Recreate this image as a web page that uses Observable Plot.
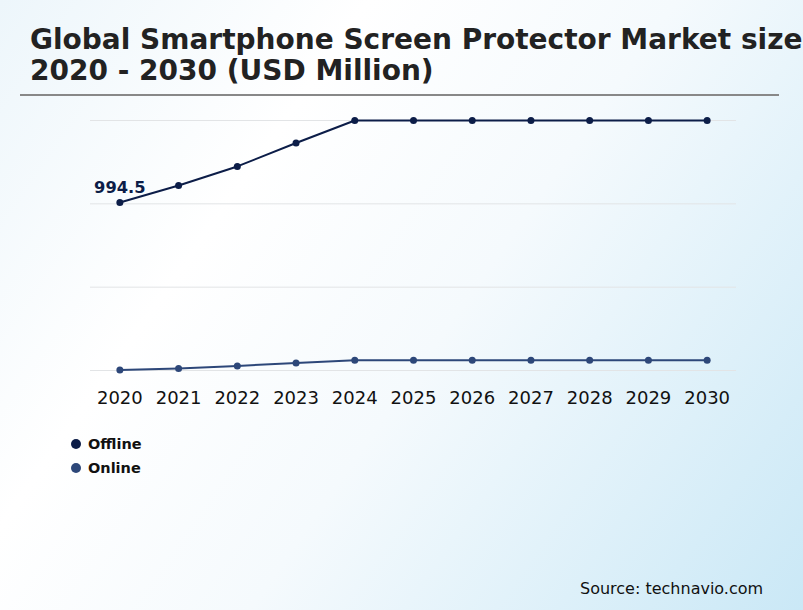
<!DOCTYPE html>
<html>
<head>
<meta charset="utf-8">
<script src="https://cdn.jsdelivr.net/npm/d3@7"></script>
<script src="https://cdn.jsdelivr.net/npm/@observablehq/plot@0.6"></script>
<style>
  html, body { margin: 0; padding: 0; }
  #page {
    position: relative; width: 803px; height: 610px; overflow: hidden;
    font-family: "DejaVu Sans", sans-serif;
    background: linear-gradient(125deg, #edf6fb 0%, #ffffff 30%, #f5fafd 55%, #cae8f6 100%);
  }
  #title {
    position: absolute; left: 30px; top: 24px; white-space: nowrap;
    font-weight: bold; font-size: 28px; line-height: 31px; color: #222;
  }
  #rule { position: absolute; left: 20px; top: 94px; width: 759px; height: 2px; background: #888; }
  #chart { position: absolute; left: 0; top: 100px; }
  #legend { position: absolute; left: 71px; top: 432px; font-size: 14.5px; font-weight: bold; color: #111; }
  #legend div { display: flex; align-items: center; height: 24px; }
  #legend span.dot { width: 10px; height: 10px; border-radius: 50%; margin-right: 7px; display: inline-block; }
  #source { position: absolute; left: 580px; top: 579px; font-size: 16px; color: #111; }
</style>
</head>
<body>
<div id="page">
  <div id="title">Global Smartphone Screen Protector Market size<br>2020 - 2030 (USD Million)</div>
  <div id="rule"></div>
  <div id="chart"></div>
  <div id="legend"></div>
  <div id="source">Source: technavio.com</div>
</div>
<script>
const years = ["2020","2021","2022","2023","2024","2025","2026","2027","2028","2029","2030"];
const offline = [994.5, 1095, 1208, 1347, 1480, 1480, 1480, 1480, 1480, 1480, 1480];
const online = [3, 12, 27, 44, 61, 61, 61, 61, 61, 61, 61];
const seriesNames = ["Offline", "Online"];
const seriesColors = ["#0c1d48", "#2d4779"];
const yMax = 1480;
const gridTicks = [0, yMax / 3, 2 * yMax / 3, yMax];
const labelText = "994.5";

const data = [];
years.forEach((y, i) => {
  data.push({year: y, value: offline[i], series: seriesNames[0]});
  data.push({year: y, value: online[i], series: seriesNames[1]});
});
const labelData = [{year: years[0], value: offline[0], text: labelText}];

const chart = Plot.plot({
  width: 803,
  height: 320,
  marginLeft: 90,
  marginRight: 67,
  marginTop: 20,
  marginBottom: 50,
  style: {background: "transparent", fontFamily: "DejaVu Sans, sans-serif"},
  x: {type: "point", domain: years, padding: 0.5, round: false, label: null},
  y: {domain: [0, yMax], axis: null},
  color: {domain: seriesNames, range: seriesColors},
  marks: [
    Plot.gridY(gridTicks, {stroke: "#e2e4e6", strokeOpacity: 1, strokeWidth: 1}),
    Plot.axisX({tickSize: 0, tickPadding: 21, fontSize: 18, fill: "#111", label: null}),
    Plot.line(data, {x: "year", y: "value", z: "series", stroke: "series", strokeWidth: 2}),
    Plot.dot(data, {x: "year", y: "value", fill: "series", r: 3.5}),
    Plot.text(labelData, {x: "year", y: "value", text: "text", dy: -15, fontSize: 16.3, fontWeight: "bold", fill: seriesColors[0]})
  ]
});
document.getElementById("chart").appendChild(chart);

const legend = document.getElementById("legend");
seriesNames.forEach((n, i) => {
  const row = document.createElement("div");
  row.innerHTML = `<span class="dot" style="background:${seriesColors[i]}"></span>${n}`;
  legend.appendChild(row);
});
</script>
</body>
</html>
